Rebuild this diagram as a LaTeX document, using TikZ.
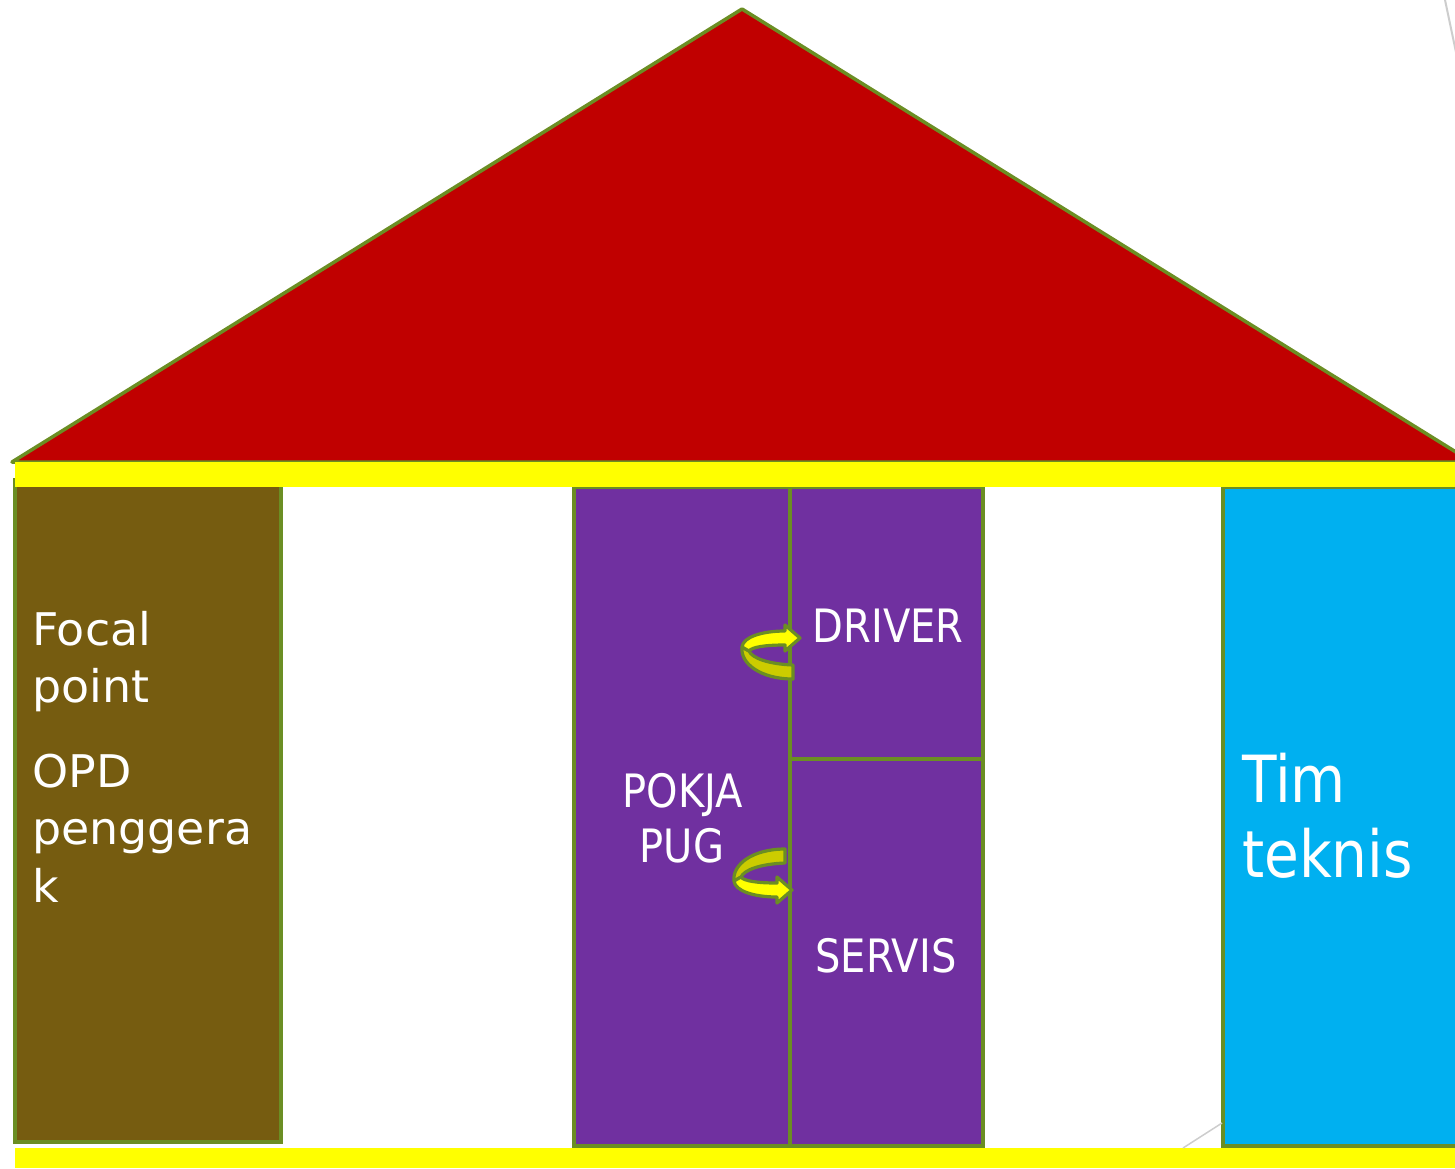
\documentclass[tikz,border=0pt]{standalone}
\usepackage{fontspec}
\setmainfont[FakeStretch=0.87]{DejaVu Sans}
\newfontfamily\widefont[FakeStretch=1.02]{DejaVu Sans}
\usepackage{tikz}
\usepackage{xcolor}

\definecolor{roofred}{RGB}{192,0,0}
\definecolor{beamyellow}{RGB}{255,255,0}
\definecolor{edgegreen}{RGB}{107,142,35}
\definecolor{pillarbrown}{RGB}{118,92,16}
\definecolor{pillarpurple}{RGB}{112,48,160}
\definecolor{pillarcyan}{RGB}{0,176,240}
\definecolor{arrowdark}{RGB}{204,204,0}
\definecolor{linegray}{RGB}{205,205,205}

\tikzset{
  turnarrow/.pic={
    \filldraw [fill=arrowdark, draw=edgegreen, line width=3.2pt, line join=round]
      (3,11) .. controls (-22,10) and (-38,4) .. (-41,-3) -- (-48,-7)
      .. controls (-50,9) and (-30,25) .. (3,25) -- cycle;
    \filldraw [fill=beamyellow, draw=edgegreen, line width=3.2pt, line join=round]
      (-48,-7) .. controls (-47,-17) and (-28,-23) .. (-5,-23) -- (-5,-29) -- (10,-16)
      -- (-5,-3) -- (-5,-9) .. controls (-25,-9) and (-38,-7) .. (-41,-3) -- cycle;
  }
}

\begin{document}
\begin{tikzpicture}[x=1pt,y=-1pt,
    pillar/.style={draw=edgegreen, line width=4.5pt},
    beam/.style={fill=beamyellow},
    pillartext/.style={text=white, inner sep=0pt, anchor=base west},
    midtext/.style={text=white, inner sep=0pt, anchor=base},
    leftfont/.style={font=\widefont\fontsize{45}{54}\selectfont},
    midfont/.style={font=\fontsize{46}{55}\selectfont},
    bigfont/.style={font=\fontsize{65}{76}\selectfont}]
\useasboundingbox (0,0) rectangle (1455,1168);
\clip (0,0) rectangle (1455,1168);

% roof
\filldraw [fill=roofred, draw=edgegreen, line width=3.5pt, line join=round]
  (12,462) -- (742,9) -- (1472,462) -- cycle;

% pillars
\filldraw [pillar, line width=4pt, fill=pillarbrown] (15,480) rectangle (281,1142);
\filldraw [pillar, fill=pillarpurple] (574,487) rectangle (983,1146);
\draw [pillar] (790,487) -- (790,1146);
\draw [pillar] (790,759) -- (983,759);
\filldraw [pillar, fill=pillarcyan] (1223,487) rectangle (1462,1146);

% beams
\fill [beam] (15,462) rectangle (1455,487);
\fill [beam] (15,1148) rectangle (1455,1168);

\draw [linegray, line width=2pt] (1445,0) -- (1457,57);
\draw [linegray, line width=1.5pt] (1183,1148) -- (1222,1123);

% turning arrows
\pic at (790,654) {turnarrow};
\pic [yscale=-1] at (782,874) {turnarrow};

% texts
\node [pillartext, leftfont] (focal) at (32,645) {Focal};
\node [pillartext, leftfont] (point) at (32,702) {point};
\node [pillartext, leftfont] (opd) at (32,787) {OPD};
\node [pillartext, leftfont] (penggera) at (32,844) {penggera};
\node [pillartext, leftfont] (k) at (32,902) {k};

\node [midtext, midfont] (pokja) at (683,807) {POKJA};
\node [midtext, midfont] (pug) at (682,862) {PUG};
\node [midtext, midfont] (driver) at (888,642) {DRIVER};
\node [midtext, midfont] (servis) at (886,972) {SERVIS};

\node [pillartext, bigfont] (tim) at (1242,802) {Tim};
\node [pillartext, bigfont] (teknis) at (1242,877) {teknis};
\end{tikzpicture}
\end{document}
